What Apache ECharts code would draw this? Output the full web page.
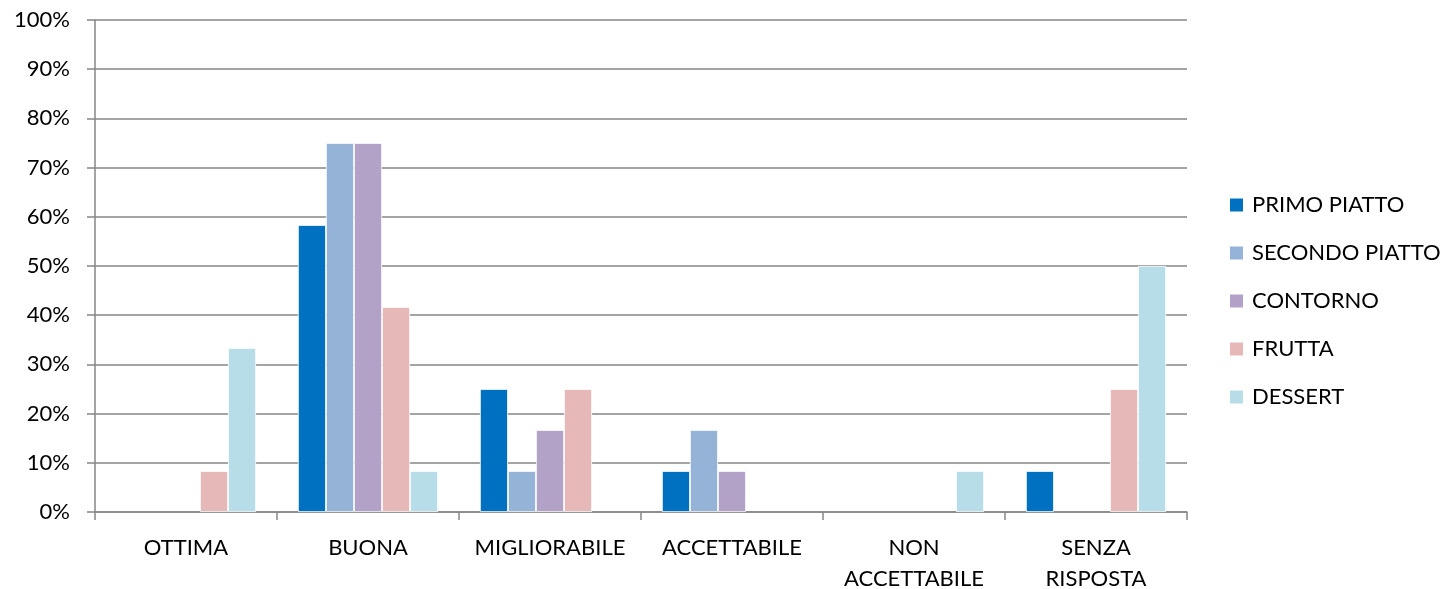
<!DOCTYPE html>
<html>
<head>
<meta charset="utf-8">
<script src="https://cdn.jsdelivr.net/npm/echarts@6/dist/echarts.min.js"></script>
<style>html,body{margin:0;padding:0;background:#fff;}#c{width:1446px;height:589px;}</style>
</head>
<body>
<div id="c"></div>
<script>
const categories = ['OTTIMA', 'BUONA', 'MIGLIORABILE', 'ACCETTABILE', 'NON\nACCETTABILE', 'SENZA\nRISPOSTA'];
const seriesNames = ['PRIMO PIATTO', 'SECONDO PIATTO', 'CONTORNO', 'FRUTTA', 'DESSERT'];
const primoPiatto = [0, 58.33, 25, 8.33, 0, 8.33];
const secondoPiatto = [0, 75, 8.33, 16.67, 0, 0];
const contorno = [0, 75, 16.67, 8.33, 0, 0];
const frutta = [8.33, 41.67, 25, 0, 0, 25];
const dessert = [33.33, 8.33, 0, 0, 8.33, 50];
const colors = ['#0070C0', '#95B3D7', '#B2A2C7', '#E6B9B8', '#B7DEE8'];
const values = [primoPiatto, secondoPiatto, contorno, frutta, dessert];

const font = 'Lato, "Open Sans", sans-serif';
const chart = echarts.init(document.getElementById('c'));
chart.setOption({
  animation: false,
  color: colors,
  grid: { left: 95, right: 259, top: 20, bottom: 77, containLabel: false, outerBoundsMode: 'none' },
  legend: {
    orient: 'vertical',
    left: 1228,
    top: 194,
    padding: 0,
    itemWidth: 15,
    itemHeight: 15,
    itemGap: 26,
    icon: 'rect',
    textStyle: { fontFamily: font, fontSize: 22, color: '#000', padding: [0, 0, 0, 3] },
    data: seriesNames
  },
  xAxis: {
    type: 'category',
    data: categories,
    axisLine: { lineStyle: { color: '#868686', width: 1.5 } },
    axisTick: { show: true, length: 8, lineStyle: { color: '#868686', width: 1.5 } },
    axisLabel: { fontFamily: font, fontSize: 22, color: '#000', margin: 20, lineHeight: 31, interval: 0 }
  },
  yAxis: {
    type: 'value',
    min: 0, max: 100, interval: 10,
    axisLine: { show: true, lineStyle: { color: '#868686', width: 1.5 } },
    axisTick: { show: true, length: 8, inside: false, lineStyle: { color: '#868686', width: 1.5 } },
    splitLine: { lineStyle: { color: '#868686', width: 1.5 } },
    axisLabel: { fontFamily: font, fontSize: 22, color: '#000', margin: 25, formatter: '{value}%' }
  },
  series: seriesNames.map((n, i) => ({
    name: n,
    type: 'bar',
    data: values[i].map(v => (v === 0 ? null : v)),
    barGap: '0%',
    barCategoryGap: '23%',
    itemStyle: { color: colors[i], borderColor: '#fff', borderWidth: 0.8 }
  }))
});
</script>
</body>
</html>
